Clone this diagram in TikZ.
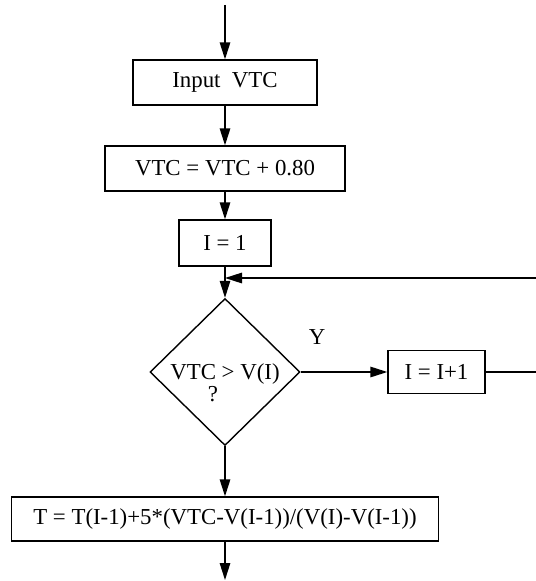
\documentclass[tikz,border=0pt]{standalone}
\usepackage{fontspec}
\setmainfont{Liberation Serif}
\usetikzlibrary{arrows.meta,shapes.geometric}

\begin{document}
\begin{tikzpicture}[>={Triangle[length=0.34cm,width=0.21cm]}, line width=0.8pt, x=0.02cm, y=-0.02cm,
  txt/.style={font=\fontsize{13}{15.6}\selectfont},
  box/.style={draw, rectangle, inner sep=0pt, txt},
  decision/.style={draw, diamond, inner sep=0pt, minimum width=3cm, minimum height=2.94cm}]
  %================= Parameters (edit these) =================
  \def\xc{225}      % main flow line
  \def\xr{536}      % right edge, the loop runs off the page
  \def\yloop{278}   % level of the loop-back line
  \def\ytest{372}   % level of the test and of I = I+1
  % page frame
  \useasboundingbox (0,0) rectangle (\xr,581);

  %================= Boxes =================
  \node[box, minimum width=3.68cm, minimum height=0.9cm] (input) at (\xc,82.5) {Input\ \ VTC};
  \node[box, minimum width=4.8cm, minimum height=0.9cm] (vtc) at (\xc,168.5) {VTC = VTC + 0.80};
  \node[box, minimum width=1.84cm, minimum height=0.92cm] (init) at (\xc,243) {I = 1};
  \node[box, minimum width=1.94cm, minimum height=0.86cm] (incr) at (436.5,\ytest) {I = I+1};
  \node[box, minimum width=8.54cm, minimum height=0.88cm] (calc) at (\xc,519)
    {T = T(I-1)+5*(VTC-V(I-1))/(V(I)-V(I-1))};

  %================= Test =================
  \node[decision] (test) at (\xc,\ytest) {};
  \node[txt, anchor=base] (cond) at (\xc,379) {VTC > V(I)};
  \node[txt, anchor=base] (qmark) at (213,401.5) {?};
  \node[txt] (yes) at (317,337) {Y};

  %================= Free ends =================
  \coordinate (start) at (\xc,5);
  \coordinate (end) at (\xc,580);
  \coordinate (join) at (\xc,\yloop);
  \coordinate (loopin) at (\xr,\yloop);
  \coordinate (exit) at (\xr,\ytest);

  %================= Connectors =================
  \draw[->] (start) -- (input);
  \draw[->] (input) -- (vtc);
  \draw[->] (vtc) -- (init);
  \draw[->] (init) -- (test);
  \draw[->] (test) -- (incr);
  \draw (incr) -- (exit);
  \draw[->] (loopin) -- (join);
  \draw[->] (test) -- (calc);
  \draw[->] (calc) -- (end);

\end{tikzpicture}
\end{document}
